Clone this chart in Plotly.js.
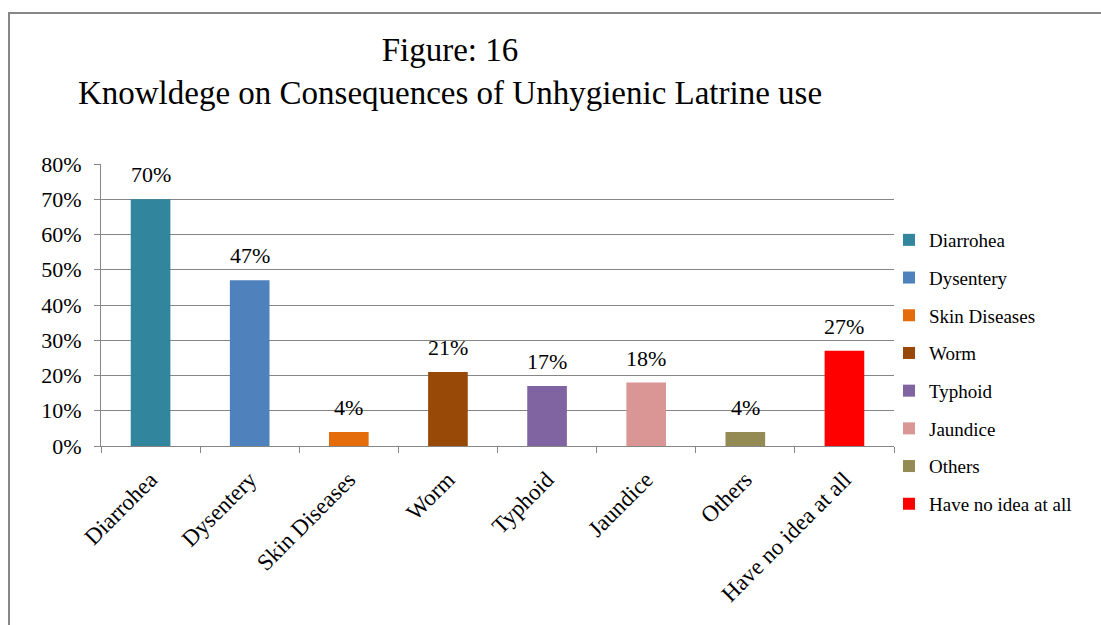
<!DOCTYPE html>
<html>
<head>
<meta charset="utf-8">
<script src="https://cdn.plot.ly/plotly-3.0.1.min.js"></script>
<style>
  html, body { margin: 0; padding: 0; background: #ffffff; }
  #chart { width: 1101px; height: 625px; }
</style>
</head>
<body>
<div id="chart"></div>
<script>
// ---- data ----
const categories = ["Diarrohea", "Dysentery", "Skin Diseases", "Worm", "Typhoid", "Jaundice", "Others", "Have no idea at all"];
const values = [0.70, 0.47, 0.04, 0.21, 0.17, 0.18, 0.04, 0.27];
const colors = ["#31859C", "#4F81BD", "#E46C0A", "#984807", "#8064A2", "#D99694", "#948A54", "#FF0000"];
const yTickVals = [0, 0.1, 0.2, 0.3, 0.4, 0.5, 0.6, 0.7, 0.8];
const titleText = "Figure: 16<br>Knowldege on Consequences of Unhygienic Latrine use";

const FONT = "Liberation Serif, Times New Roman, serif";
const GRID = "#868686";

const traces = categories.map((c, i) => ({
  type: "bar",
  name: c,
  x: [c],
  y: [values[i]],
  width: 0.4,
  marker: { color: colors[i] },
  legendgroup: "g" + i,
  hoverinfo: "x+y"
}));

const annotations = categories.map((c, i) => ({
  x: c,
  y: values[i],
  xref: "x",
  yref: "y",
  text: Math.round(values[i] * 100) + "%",
  showarrow: false,
  yanchor: "bottom",
  yshift: 10,
  font: { family: FONT, size: 22, color: "#000000" }
}));

// plot area in pixels: x 101..894, y 164..446
const L = 101, R = 894, T = 164, B = 446;
const W = R - L, H = B - T;

const layout = {
  width: 1101,
  height: 625,
  margin: { l: L, r: 1101 - R, t: T, b: 625 - B, pad: 0 },
  paper_bgcolor: "#ffffff",
  plot_bgcolor: "#ffffff",
  font: { family: FONT, size: 22, color: "#000000" },
  title: {
    text: titleText,
    font: { family: FONT, size: 33, color: "#000000" },
    xref: "container",
    x: 450 / 1101,
    xanchor: "center",
    yref: "container",
    y: 1 - 61 / 625,
    yanchor: "top"
  },
  barmode: "overlay",
  showlegend: true,
  legend: {
    x: (889 - L) / W,
    xanchor: "left",
    y: (B - 221) / H,
    yanchor: "top",
    traceorder: "grouped",
    tracegroupgap: 10,
    maxheight: 600,
    font: { family: FONT, size: 19, color: "#000000" },
    itemwidth: 30,
    bgcolor: "rgba(0,0,0,0)"
  },
  xaxis: {
    type: "category",
    categoryorder: "array",
    categoryarray: categories,
    tickson: "boundaries",
    ticks: "outside",
    ticklen: 6,
    tickcolor: GRID,
    showline: true,
    linecolor: GRID,
    linewidth: 1,
    showgrid: false,
    tickangle: -45,
    ticklabelstandoff: 10,
    tickfont: { family: FONT, size: 23, color: "#000000" },
    fixedrange: true
  },
  yaxis: {
    range: [0, 0.8],
    tickvals: yTickVals,
    tickformat: ".0%",
    ticks: "outside",
    ticklen: 6,
    tickcolor: GRID,
    showline: true,
    linecolor: GRID,
    linewidth: 1,
    showgrid: true,
    gridcolor: GRID,
    gridwidth: 1,
    zeroline: false,
    ticklabelstandoff: 8,
    tickfont: { family: FONT, size: 22, color: "#000000" },
    fixedrange: true
  },
  annotations: annotations,
  shapes: [{
    type: "rect",
    xref: "paper",
    yref: "paper",
    x0: (9 - L) / W,
    x1: (1200 - L) / W,
    y0: (B - 700) / H,
    y1: (B - 13) / H,
    line: { color: "#878787", width: 2 },
    fillcolor: "rgba(0,0,0,0)",
    layer: "below"
  }]
};

Plotly.newPlot("chart", traces, layout, { displayModeBar: false, staticPlot: true });
</script>
</body>
</html>
